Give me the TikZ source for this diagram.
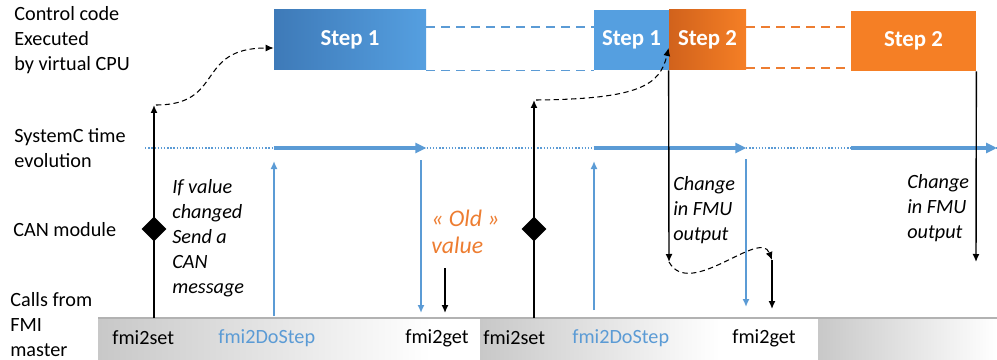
\documentclass[tikz,border=0pt]{standalone}
\usepackage{fontspec}
\setmainfont{Carlito}
\usetikzlibrary{arrows.meta, shapes.geometric}
\definecolor{fmiblue}{HTML}{5B9BD5}
\definecolor{boxblueD}{HTML}{3E7AB8}
\definecolor{boxblueL}{HTML}{559FE0}
\definecolor{boxorD}{HTML}{D1621C}
\definecolor{boxorL}{HTML}{F57F25}
\definecolor{oldor}{HTML}{ED7D31}
\definecolor{barg}{HTML}{C8C8C8}
\tikzset{
  lbl/.style={anchor=west, align=left, inner sep=0pt, font=\fontsize{11.5}{14.2}\selectfont},
  note/.style={lbl, font=\fontsize{11.5}{14.2}\selectfont\itshape},
  stepbox/.style={inner sep=0pt, minimum height=12mm, text=white, font=\fontsize{13}{15}\selectfont\bfseries},
  gem/.style={diamond, fill=black, inner sep=0pt, minimum width=5mm, minimum height=5mm},
  axisdot/.style={fmiblue, densely dotted, line width=0.8pt},
  axisarrow/.style={fmiblue, line width=1.8pt, -{Triangle[length=2.2mm, width=2mm]}},
  bluedash/.style={fmiblue, dash pattern=on 1.8mm off 1.2mm, line width=0.9pt},
  ordash/.style={oldor, dash pattern=on 1.8mm off 1.2mm, line width=0.9pt},
  bluearr/.style={fmiblue, line width=0.9pt, -{Latex[length=1.6mm, width=1.4mm]}},
  blackarr/.style={black, line width=0.8pt, -{Latex[length=1.6mm, width=1.4mm]}},
  wake/.style={black, densely dashed, line width=0.6pt, -{Latex[length=1.6mm, width=1.4mm]}}
}
\begin{document}
\begin{tikzpicture}[x=0.2mm, y=-0.2mm]
\useasboundingbox (0,0) rectangle (997,360);

% row labels
\node[lbl] (cpu) at (14,40) {Control code\\Executed\\by virtual CPU};
\node[lbl] (sysc) at (14,148) {SystemC time\\evolution};
\node[lbl] (can) at (13,230) {CAN module};
\node[lbl] (fmi) at (10,325) {Calls from\\FMI\\master};

% steps of the virtual CPU
\node[stepbox, minimum width=30.4mm, left color=boxblueD, right color=boxblueL] (s1a) at (350,40) {Step 1};
\node[stepbox, minimum width=15mm, fill=boxblueL] (s1b) at (631.5,40) {Step 1};
\node[stepbox, minimum width=15.4mm, left color=boxorD, right color=boxorL] (s2a) at (707.5,40) {Step 2};
\node[stepbox, minimum width=25mm, fill=boxorL] (s2b) at (913.5,41) {Step 2};

\coordinate (hi) at (0,27);
\coordinate (lo) at (0,68);
\draw[bluedash] (s1a.east |- hi) -- (s1b.west |- hi);
\draw[bluedash] (s1a.south east) -- (s1b.south west);
\draw[ordash] (s2a.east |- hi) -- (s2b.west |- hi);
\draw[ordash] (s2a.east |- lo) -- (s2b.west |- lo);

% calls bar
\shade[left color=barg, right color=white] (98,318) rectangle (430,360);
\fill[white] (430,318) rectangle (480,360);
\shade[left color=barg, right color=white] (480,318) rectangle (720,360);
\fill[white] (720,318) rectangle (818,360);
\shade[left color=barg, right color=white] (818,318) rectangle (997,360);
\draw[gray!60, line width=0.8pt] (98,318) -- (997,318);

\node[lbl] (set1) at (112,338) {fmi2set};
\node[lbl, text=fmiblue] (do1) at (218,338) {fmi2DoStep};
\node[lbl] (get1) at (405,338) {fmi2get};
\node[lbl] (set2) at (483,338) {fmi2set};
\node[lbl, text=fmiblue] (do2) at (572,338) {fmi2DoStep};
\node[lbl] (get2) at (732,338) {fmi2get};

% SystemC time
\coordinate (t0) at (145,148);
\coordinate (tend) at (997,148);
\draw[axisdot] (t0) -- (tend);
\draw[axisarrow] (s1a.west |- t0) -- (s1a.east |- t0);
\draw[axisarrow] (s1b.west |- t0) -- (s2a.east |- t0);
\draw[axisarrow] (s2b.west |- t0) -- (tend);

% first exchange
\coordinate (c1) at (154,318);
\coordinate (w1) at (154,105);
\draw[blackarr] (c1) -- (w1);
\node[gem] (d1) at (154,229) {};
\draw[wake] ([xshift=0.4mm]w1) .. controls (225,105) and (195,48) .. ([yshift=-1.6mm]s1a.west);
\node[note] (ifv) at (172,238) {If value\\changed\\Send a\\CAN\\message};
\draw[bluearr] (274,316) -- (274,161);
\draw[bluearr] (421,160) -- (421,313);
\node[note, text=oldor, font=\fontsize{13.5}{15.5}\selectfont\itshape] (old) at (431,232) {« Old »\\value};
\draw[blackarr] (445,268) -- (445,313);

% second exchange
\coordinate (c2) at (534,318);
\coordinate (w2) at (534,100);
\draw[blackarr] (c2) -- (w2);
\node[gem] (d2) at (534,229) {};
\draw[wake] ([xshift=0.4mm]w2) .. controls (640,99) and (660,85) .. ([yshift=-1.6mm]s2a.west);
\draw[bluearr] (594,310) -- (594,161);
\coordinate (f1) at (669,262);
\draw[blackarr] (s2a.south west) -- (f1);
\node[note] (chg1) at (673,210) {Change\\in FMU\\output};
\draw[bluearr] (746,159) -- (746,307);
\coordinate (g2) at (772,260);
\draw[wake] (f1) .. controls (690,300) and (760,228) .. (g2);
\draw[blackarr] (g2) -- (772,309);

% third step
\draw[blackarr] (s2b.south east) -- (976,262);
\node[note] (chg2) at (907,208) {Change\\in FMU\\output};
\end{tikzpicture}
\end{document}
